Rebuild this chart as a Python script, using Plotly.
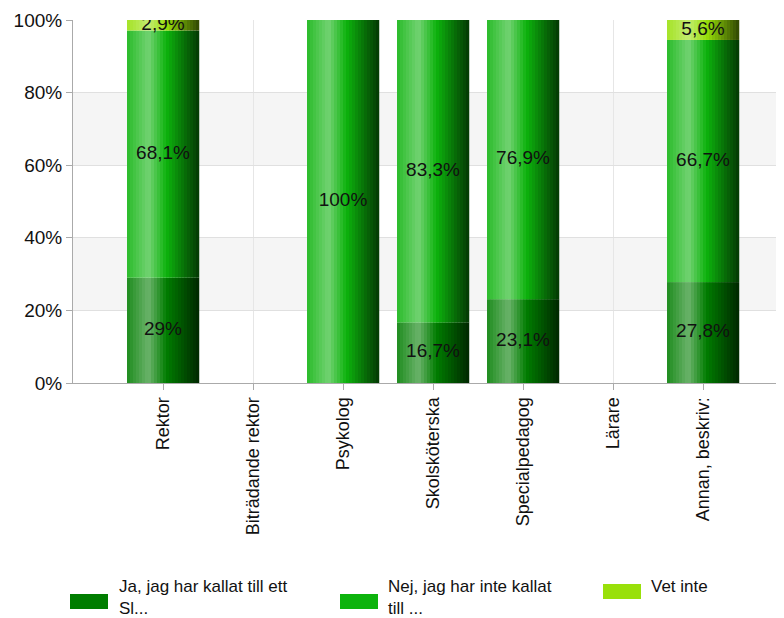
import numpy as np
import plotly.graph_objects as go

# categories and values (percent)
kategorier = ["Rektor", "Biträdande rektor", "Psykolog", "Skolsköterska",
              "Specialpedagog", "Lärare", "Annan, beskriv:"]
ja_vals = [29.0, None, 0.0, 16.7, 23.1, None, 27.8]
nej_vals = [68.1, None, 100.0, 83.3, 76.9, None, 66.7]
vet_vals = [2.9, None, 0.0, 0.0, 0.0, None, 5.6]
serie_namn = ["Ja, jag har kallat till ett<br>Sl...",
              "Nej, jag har inte kallat<br>till ...",
              "Vet inte"]
y_ticks = [0, 20, 40, 60, 80, 100]
y_ticktext = ["0%", "20%", "40%", "60%", "80%", "100%"]

FONT = "Arial, Liberation Sans, sans-serif"
# the page body adds an 8px margin, so the figure is drawn 8px smaller and shifted
OFF = 8
W, H = 784 - OFF, 618 - OFF
L, R, T, B = 73 - OFF, 0, 20 - OFF, 618 - 383

base_colors = [(0, 125, 0), (13, 179, 13), (153, 224, 10)]
legend_colors = ["#007d00", "#0db30d", "#99e00a"]


def shade(rgb, t):
    # cylinder-like shading across the bar: light highlight left of centre, dark right edge
    pts_t = [0.0, 0.3, 0.55, 1.0]
    pts_f = [0.12, 0.42, 0.0, -0.68]
    f = np.interp(t, pts_t, pts_f)
    c = np.array(rgb, dtype=float)
    if f >= 0:
        c = c + (255 - c) * f
    else:
        c = c * (1 + f)
    c = np.clip(c, 0, 255).astype(int)
    return "rgb(%d,%d,%d)" % tuple(c)


def clean(v):
    return [np.nan if x is None else x for x in v]


series = [np.array(clean(ja_vals)), np.array(clean(nej_vals)), np.array(clean(vet_vals))]
bases = []
acc = np.zeros(len(kategorier))
for s in series:
    bases.append(acc.copy())
    acc = acc + np.nan_to_num(s)

fig = go.Figure()
bar_w = 0.8
N = 24
for k, s in enumerate(series):
    for i in range(N):
        t = (i + 0.5) / N
        fig.add_trace(go.Bar(
            x=kategorier, y=s, base=bases[k],
            width=bar_w / N * 1.08, offset=-bar_w / 2 + i * bar_w / N,
            marker=dict(color=shade(base_colors[k], t), line=dict(width=0)),
            showlegend=False, hoverinfo="skip",
        ))

# value labels
for k, s in enumerate(series):
    mids, txt, xs = [], [], []
    for j, v in enumerate(s):
        if np.isnan(v) or v <= 0:
            continue
        xs.append(kategorier[j])
        mids.append(bases[k][j] + v / 2)
        txt.append(("%g" % v).replace(".", ",") + "%")
    fig.add_trace(go.Scatter(
        x=xs, y=mids, text=txt, mode="text",
        textfont=dict(family=FONT, size=19, color="#111111"),
        showlegend=False, hoverinfo="skip",
    ))

# alternating bands
shapes = []
for y0, y1 in [(20, 40), (60, 80)]:
    shapes.append(dict(type="rect", xref="paper", yref="y", x0=0, x1=1, y0=y0, y1=y1,
                       fillcolor="#f5f5f5", line=dict(width=0), layer="below"))

# manual legend (positions given in screenshot pixels)
pw, ph = W - L - R, H - T - B


def px_x(x):
    return (x - OFF - L) / pw


def px_y(y):
    return (H - B - (y - OFF)) / ph


annotations = []
sw_x = [70, 340, 603]
sw_top = [594, 594, 584]
txt_x = [118, 387, 650]
for k in range(3):
    shapes.append(dict(type="rect", xref="paper", yref="paper",
                       x0=px_x(sw_x[k]), x1=px_x(sw_x[k] + 38),
                       y0=px_y(sw_top[k] + 15), y1=px_y(sw_top[k]),
                       fillcolor=legend_colors[k], line=dict(width=0)))
    annotations.append(dict(xref="paper", yref="paper", x=px_x(txt_x[k]), y=px_y(576),
                            xanchor="left", yanchor="top", align="left", showarrow=False,
                            text=serie_namn[k], borderpad=0,
                            font=dict(family=FONT, size=17, color="#111111")))

fig.update_layout(
    width=W, height=H,
    margin=dict(l=L, r=R, t=T, b=B, autoexpand=False),
    barmode="overlay",
    plot_bgcolor="white", paper_bgcolor="white",
    showlegend=False,
    shapes=shapes, annotations=annotations,
    font=dict(family=FONT, size=16, color="#111111"),
)
fig.update_xaxes(
    type="category", categoryorder="array", categoryarray=kategorier,
    range=[-1, 6.9], tickangle=-90, automargin=False,
    showgrid=True, gridcolor="#e6e6e6", gridwidth=1,
    ticks="outside", ticklen=6, tickcolor="#aaaaaa",
    showline=True, linecolor="#aaaaaa",
    tickfont=dict(family=FONT, size=18, color="#111111"),
)
fig.update_yaxes(
    range=[0, 100], tickvals=y_ticks, ticktext=y_ticktext, automargin=False,
    showgrid=True, gridcolor="#e0e0e0",
    ticks="outside", ticklen=6, tickcolor="#aaaaaa",
    showline=True, linecolor="#aaaaaa", zeroline=False,
    tickfont=dict(family=FONT, size=19, color="#111111"),
)

fig.write_html("out.html")
